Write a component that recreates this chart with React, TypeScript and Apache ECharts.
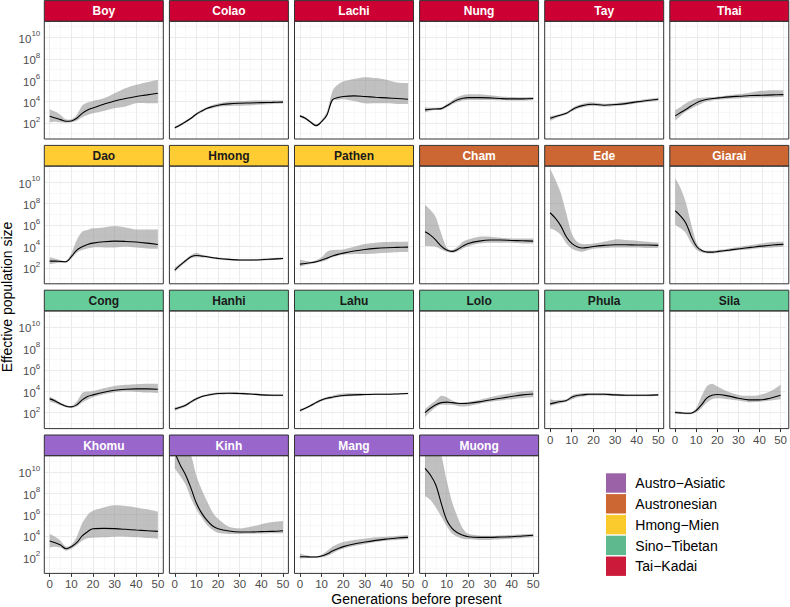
import React, { useEffect, useRef } from 'react';
import * as echarts from 'echarts';

const FONT = '"Liberation Sans", Arial, Helvetica, sans-serif';

// generations before present (sample points)
const gens = [0, 2.5, 5, 7.5, 10, 12.5, 15, 17.5, 20, 25, 30, 35, 40, 45, 50];
const xTicks = [0, 10, 20, 30, 40, 50];
const xMinor = [5, 15, 25, 35, 45];
// log10 of effective population size
const yTicks = [2, 4, 6, 8, 10];
const yMinor = [1, 3, 5, 7, 9, 11];

const groupNames = ['Austro−Asiatic', 'Austronesian', 'Hmong−Mien', 'Sino−Tibetan', 'Tai−Kadai'];
const stripColors = ['#9966CC', '#CC6633', '#FFCC33', '#66CC99', '#CC0033'];
const legendColors = ['#9B62A8', '#CC6633', '#FBCB2E', '#5FB98E', '#CC1A3A'];
const stripTextColors = ['#ffffff', '#ffffff', '#1a1a1a', '#1a1a1a', '#ffffff'];

const populations = [
  'Boy', 'Colao', 'Lachi', 'Nung', 'Tay', 'Thai',
  'Dao', 'Hmong', 'Pathen', 'Cham', 'Ede', 'Giarai',
  'Cong', 'Hanhi', 'Lahu', 'Lolo', 'Phula', 'Sila',
  'Khomu', 'Kinh', 'Mang', 'Muong',
];
const populationGroup = [4, 4, 4, 4, 4, 4, 2, 2, 2, 1, 1, 1, 3, 3, 3, 3, 3, 3, 0, 0, 0, 0];

// values are log10(Ne)
const boyMid = [2.62, 2.47, 2.31, 2.16, 2.19, 2.44, 2.9, 3.22, 3.4, 3.75, 4.06, 4.28, 4.47, 4.62, 4.78];
const boyHi = [3.28, 3.06, 2.75, 2.34, 2.34, 2.75, 3.6, 3.9, 4.06, 4.3, 4.78, 5.25, 5.56, 5.8, 6.03];
const boyLo = [2.06, 2.12, 2.06, 2.03, 2.06, 2.2, 2.53, 2.75, 2.9, 3.12, 3.37, 3.53, 3.84, 3.84, 3.84];

const colaoMid = [1.56, 1.81, 2.12, 2.44, 2.84, 3.12, 3.37, 3.53, 3.66, 3.78, 3.84, 3.87, 3.9, 3.92, 3.95];
const colaoHi = [1.68, 1.93, 2.24, 2.56, 2.96, 3.25, 3.5, 3.68, 3.82, 4.0, 4.05, 4.08, 4.1, 4.1, 4.1];
const colaoLo = [1.44, 1.69, 2.0, 2.32, 2.72, 3.0, 3.25, 3.38, 3.5, 3.58, 3.6, 3.65, 3.72, 3.78, 3.82];

const lachiMid = [2.66, 2.44, 2.06, 1.75, 2.12, 2.75, 4.16, 4.37, 4.47, 4.53, 4.47, 4.4, 4.34, 4.28, 4.22];
const lachiHi = [2.75, 2.55, 2.19, 1.87, 2.28, 3.06, 4.94, 5.56, 5.87, 6.1, 6.28, 6.19, 6.03, 5.78, 5.72];
const lachiLo = [2.53, 2.32, 1.97, 1.66, 2.03, 2.6, 4.0, 4.16, 4.22, 4.06, 3.84, 3.84, 3.84, 3.78, 3.78];

const nungMid = [3.22, 3.28, 3.31, 3.34, 3.6, 3.9, 4.16, 4.31, 4.37, 4.37, 4.34, 4.28, 4.25, 4.25, 4.28];
const nungHi = [3.47, 3.42, 3.43, 3.46, 3.75, 4.1, 4.42, 4.6, 4.68, 4.68, 4.58, 4.48, 4.42, 4.4, 4.42];
const nungLo = [2.97, 3.14, 3.2, 3.22, 3.45, 3.72, 3.95, 4.1, 4.15, 4.15, 4.15, 4.12, 4.1, 4.1, 4.12];

const tayMid = [2.44, 2.6, 2.75, 2.9, 3.22, 3.47, 3.62, 3.72, 3.75, 3.66, 3.72, 3.81, 3.97, 4.1, 4.22];
const tayHi = [2.62, 2.72, 2.87, 3.02, 3.36, 3.62, 3.8, 3.92, 3.9, 3.8, 3.85, 3.95, 4.1, 4.24, 4.36];
const tayLo = [2.2, 2.45, 2.63, 2.78, 3.08, 3.32, 3.46, 3.55, 3.58, 3.52, 3.58, 3.67, 3.83, 3.96, 4.08];

const thaiMid = [2.66, 2.97, 3.28, 3.6, 3.9, 4.09, 4.22, 4.28, 4.34, 4.44, 4.5, 4.56, 4.59, 4.62, 4.65];
const thaiHi = [3.22, 3.5, 3.84, 4.1, 4.3, 4.35, 4.4, 4.42, 4.48, 4.6, 4.7, 4.85, 5.0, 5.06, 5.06];
const thaiLo = [2.22, 2.65, 3.06, 3.35, 3.6, 3.85, 4.02, 4.12, 4.18, 4.26, 4.32, 4.36, 4.38, 4.4, 4.42];

const daoMid = [2.62, 2.62, 2.59, 2.56, 3.03, 3.65, 3.96, 4.18, 4.3, 4.43, 4.49, 4.46, 4.4, 4.3, 4.18];
const daoHi = [2.97, 2.85, 2.72, 2.65, 3.34, 4.59, 5.36, 5.52, 5.68, 5.77, 5.9, 5.77, 5.58, 5.58, 5.58];
const daoLo = [2.34, 2.42, 2.47, 2.47, 2.87, 3.4, 3.65, 3.81, 3.9, 3.9, 3.9, 3.96, 3.9, 3.81, 3.78];

const hmongMid = [1.78, 2.25, 2.65, 3.03, 3.15, 3.09, 3.03, 2.93, 2.87, 2.78, 2.72, 2.72, 2.75, 2.81, 2.87];
const hmongHi = [2.03, 2.4, 2.8, 3.2, 3.4, 3.22, 3.12, 3.02, 2.96, 2.86, 2.8, 2.8, 2.83, 2.9, 2.96];
const hmongLo = [1.62, 2.1, 2.5, 2.88, 2.97, 2.96, 2.93, 2.84, 2.78, 2.7, 2.64, 2.64, 2.67, 2.73, 2.78];

const pathenMid = [2.34, 2.4, 2.47, 2.56, 2.72, 2.9, 3.09, 3.25, 3.37, 3.56, 3.71, 3.81, 3.87, 3.9, 3.93];
const pathenHi = [2.78, 2.65, 2.56, 2.7, 2.97, 3.5, 3.65, 3.68, 3.71, 3.96, 4.21, 4.34, 4.4, 4.43, 4.43];
const pathenLo = [2.09, 2.25, 2.34, 2.45, 2.56, 2.72, 2.97, 3.1, 3.21, 3.28, 3.28, 3.34, 3.4, 3.46, 3.46];

const chamMid = [5.36, 5.05, 4.59, 4.02, 3.65, 3.53, 3.71, 4.02, 4.27, 4.49, 4.59, 4.59, 4.55, 4.52, 4.49];
const chamHi = [7.86, 7.39, 6.7, 5.21, 3.9, 3.65, 3.96, 4.43, 4.65, 4.9, 4.9, 4.8, 4.74, 4.74, 4.74];
const chamLo = [4.02, 4.02, 3.96, 3.71, 3.5, 3.4, 3.53, 3.81, 4.02, 4.27, 4.34, 4.34, 4.34, 4.27, 4.27];

const edeMid = [7.14, 6.61, 5.89, 4.9, 4.27, 3.96, 3.84, 3.9, 3.99, 4.09, 4.15, 4.15, 4.12, 4.12, 4.09];
const edeHi = [11.28, 10.2, 8.95, 7.08, 5.21, 4.43, 4.21, 4.21, 4.27, 4.43, 4.65, 4.59, 4.52, 4.43, 4.34];
const edeLo = [5.68, 5.46, 5.05, 4.27, 3.81, 3.59, 3.5, 3.65, 3.78, 3.84, 3.9, 3.9, 3.9, 3.84, 3.84];

const giaraiMid = [7.33, 6.83, 6.14, 4.9, 3.96, 3.59, 3.46, 3.46, 3.53, 3.65, 3.78, 3.9, 4.02, 4.12, 4.18];
const giaraiHi = [10.37, 9.43, 8.03, 6.0, 4.27, 3.71, 3.59, 3.59, 3.65, 3.81, 3.96, 4.12, 4.27, 4.4, 4.43];
const giaraiLo = [6.0, 5.68, 5.21, 4.27, 3.65, 3.4, 3.34, 3.34, 3.4, 3.53, 3.65, 3.74, 3.84, 3.9, 3.96];

const congMid = [3.28, 3.09, 2.81, 2.59, 2.53, 2.72, 3.18, 3.5, 3.65, 3.9, 4.09, 4.18, 4.21, 4.21, 4.18];
const congHi = [3.5, 3.25, 2.93, 2.7, 2.62, 3.03, 3.81, 3.96, 4.02, 4.27, 4.49, 4.59, 4.65, 4.68, 4.68];
const congLo = [3.03, 2.88, 2.68, 2.5, 2.44, 2.56, 2.93, 3.2, 3.43, 3.71, 3.9, 3.96, 3.93, 3.87, 3.81];

const hanhiMid = [2.34, 2.5, 2.68, 3.0, 3.28, 3.5, 3.62, 3.71, 3.78, 3.81, 3.78, 3.74, 3.65, 3.62, 3.62];
const hanhiHi = [2.5, 2.62, 2.82, 3.12, 3.4, 3.6, 3.72, 3.82, 3.88, 3.9, 3.87, 3.82, 3.74, 3.72, 3.72];
const hanhiLo = [2.15, 2.36, 2.55, 2.88, 3.16, 3.4, 3.52, 3.61, 3.68, 3.72, 3.69, 3.66, 3.56, 3.52, 3.52];

const lahuMid = [2.19, 2.4, 2.65, 2.93, 3.18, 3.34, 3.43, 3.53, 3.59, 3.65, 3.68, 3.71, 3.71, 3.74, 3.78];
const lahuHi = [2.32, 2.5, 2.75, 3.04, 3.3, 3.46, 3.58, 3.7, 3.78, 3.8, 3.78, 3.78, 3.78, 3.8, 3.84];
const lahuLo = [2.05, 2.3, 2.55, 2.82, 3.06, 3.22, 3.32, 3.42, 3.48, 3.55, 3.6, 3.63, 3.64, 3.67, 3.71];

const loloMid = [2.0, 2.4, 2.72, 2.93, 2.97, 2.93, 2.87, 2.84, 2.87, 3.0, 3.18, 3.34, 3.5, 3.65, 3.74];
const loloHi = [2.31, 2.75, 3.12, 3.56, 3.43, 3.12, 2.93, 2.95, 3.0, 3.18, 3.43, 3.65, 3.81, 3.96, 4.06];
const loloLo = [1.56, 2.09, 2.5, 2.72, 2.72, 2.72, 2.62, 2.56, 2.62, 2.81, 3.0, 3.12, 3.25, 3.37, 3.43];

const phulaMid = [2.81, 2.93, 3.03, 3.12, 3.43, 3.59, 3.65, 3.71, 3.71, 3.71, 3.65, 3.62, 3.62, 3.62, 3.65];
const phulaHi = [3.25, 3.15, 3.2, 3.25, 3.6, 3.75, 3.8, 3.82, 3.82, 3.82, 3.75, 3.72, 3.72, 3.72, 3.74];
const phulaLo = [2.62, 2.75, 2.88, 3.0, 3.22, 3.4, 3.5, 3.58, 3.6, 3.6, 3.55, 3.52, 3.52, 3.52, 3.55];

const silaMid = [2.0, 1.97, 1.94, 1.94, 2.19, 2.72, 3.34, 3.62, 3.68, 3.56, 3.34, 3.18, 3.18, 3.34, 3.62];
const silaHi = [2.16, 2.08, 2.03, 2.03, 2.4, 3.5, 4.43, 4.68, 4.43, 3.96, 3.65, 3.56, 3.65, 3.96, 4.59];
const silaLo = [1.87, 1.86, 1.84, 1.84, 2.0, 2.4, 2.93, 3.25, 3.34, 3.25, 3.12, 2.97, 3.0, 3.12, 3.25];

const khomuMid = [3.53, 3.37, 3.15, 2.81, 3.0, 3.37, 4.0, 4.4, 4.68, 4.71, 4.68, 4.62, 4.55, 4.49, 4.43];
const khomuHi = [4.18, 3.93, 3.56, 3.0, 3.18, 3.93, 5.18, 5.96, 6.36, 6.67, 6.86, 6.8, 6.67, 6.49, 6.27];
const khomuLo = [2.93, 3.0, 2.93, 2.62, 2.81, 3.15, 3.56, 3.78, 3.84, 3.87, 3.93, 3.93, 3.87, 3.81, 3.74];

const kinhMid = [11.8, 10.63, 9.7, 8.45, 7.05, 6.11, 5.43, 4.93, 4.68, 4.46, 4.37, 4.37, 4.4, 4.43, 4.49];
const kinhHi = [12.5, 12.3, 12.0, 11.6, 9.6, 8.3, 7.2, 6.2, 5.6, 4.85, 4.7, 4.85, 5.1, 5.3, 5.4];
const kinhLo = [10.3, 9.6, 8.8, 7.5, 6.5, 5.7, 5.0, 4.55, 4.3, 4.18, 4.18, 4.2, 4.22, 4.25, 4.25];

const mangMid = [2.06, 2.06, 2.03, 2.03, 2.12, 2.31, 2.59, 2.81, 3.0, 3.25, 3.43, 3.59, 3.71, 3.81, 3.87];
const mangHi = [2.37, 2.22, 2.12, 2.12, 2.25, 2.59, 3.0, 3.25, 3.43, 3.62, 3.74, 3.87, 3.93, 4.0, 4.09];
const mangLo = [1.9, 1.92, 1.94, 1.96, 2.0, 2.12, 2.37, 2.62, 2.81, 3.06, 3.25, 3.43, 3.56, 3.62, 3.68];

const muongMid = [10.32, 9.7, 8.76, 7.05, 5.49, 4.71, 4.3, 4.06, 3.93, 3.87, 3.87, 3.9, 3.93, 4.0, 4.06];
const muongHi = [12.3, 12.2, 12.0, 11.6, 9.2, 7.2, 5.8, 4.7, 4.2, 4.05, 4.02, 4.05, 4.1, 4.15, 4.2];
const muongLo = [7.73, 7.36, 6.67, 5.8, 4.93, 4.24, 3.93, 3.74, 3.68, 3.62, 3.62, 3.68, 3.74, 3.81, 3.87];

const midValues = [boyMid, colaoMid, lachiMid, nungMid, tayMid, thaiMid, daoMid, hmongMid, pathenMid, chamMid, edeMid, giaraiMid, congMid, hanhiMid, lahuMid, loloMid, phulaMid, silaMid, khomuMid, kinhMid, mangMid, muongMid];
const hiValues = [boyHi, colaoHi, lachiHi, nungHi, tayHi, thaiHi, daoHi, hmongHi, pathenHi, chamHi, edeHi, giaraiHi, congHi, hanhiHi, lahuHi, loloHi, phulaHi, silaHi, khomuHi, kinhHi, mangHi, muongHi];
const loValues = [boyLo, colaoLo, lachiLo, nungLo, tayLo, thaiLo, daoLo, hmongLo, pathenLo, chamLo, edeLo, giaraiLo, congLo, hanhiLo, lahuLo, loloLo, phulaLo, silaLo, khomuLo, kinhLo, mangLo, muongLo];

// Catmull-Rom style cubic segments through pixel points (rendering only)
function curveThrough(pts: number[][], t: number): string {
  let d = '';
  for (let i = 0; i < pts.length - 1; i++) {
    const p0 = pts[i - 1] || pts[i];
    const p1 = pts[i];
    const p2 = pts[i + 1];
    const p3 = pts[i + 2] || p2;
    const c1x = p1[0] + ((p2[0] - p0[0]) * t) / 6;
    const c1y = p1[1] + ((p2[1] - p0[1]) * t) / 6;
    const c2x = p2[0] - ((p3[0] - p1[0]) * t) / 6;
    const c2y = p2[1] - ((p3[1] - p1[1]) * t) / 6;
    d += ` C ${c1x.toFixed(2)} ${c1y.toFixed(2)} ${c2x.toFixed(2)} ${c2y.toFixed(2)} ${p2[0].toFixed(2)} ${p2[1].toFixed(2)}`;
  }
  return d;
}

function buildOption() {
  const PANEL_W = 119;
  const PANEL_H = 117.7;
  const STRIP_H = 20.7;
  const grids: any[] = [];
  const xAxes: any[] = [];
  const yAxes: any[] = [];
  const series: any[] = [];
  const graphics: any[] = [];

  const gridLines = [
    ...xTicks.map((v) => ({ xAxis: v, lineStyle: { color: '#ebebeb', width: 1, type: 'solid' } })),
    ...xMinor.map((v) => ({ xAxis: v, lineStyle: { color: '#f3f3f3', width: 0.6, type: 'solid' } })),
    ...yTicks.map((v) => ({ yAxis: v, lineStyle: { color: '#ebebeb', width: 1, type: 'solid' } })),
    ...yMinor.map((v) => ({ yAxis: v, lineStyle: { color: '#f3f3f3', width: 0.6, type: 'solid' } })),
  ];

  populations.forEach((name, i) => {
    const r = Math.floor(i / 6);
    const c = i % 6;
    const left = 44.3 + c * 125.1;
    const top = 21.3 + r * 144.8;
    const showX = r === 3 || (r === 2 && c >= 4);
    const showY = c === 0;
    grids.push({ left, top, width: PANEL_W, height: PANEL_H, containLabel: false });
    xAxes.push({
      type: 'value', gridIndex: i, min: -2.5, max: 52.5,
      axisLine: { show: false }, splitLine: { show: false },
      axisTick: { show: showX, customValues: xTicks, length: 3.5, lineStyle: { color: '#333333', width: 1 } },
      axisLabel: { show: showX, customValues: xTicks, margin: 5, fontSize: 11.5, color: '#4d4d4d', fontFamily: FONT },
    });
    yAxes.push({
      type: 'value', gridIndex: i, min: 0.5, max: 11.5,
      axisLine: { show: false }, splitLine: { show: false },
      axisTick: { show: showY, customValues: yTicks, length: 3.5, lineStyle: { color: '#333333', width: 1 } },
      axisLabel: {
        show: showY, customValues: yTicks, margin: 4,
        formatter: (v: number) => `{b|10}{s|${v}}`,
        rich: {
          b: { fontSize: 11.5, color: '#4d4d4d', fontFamily: FONT, lineHeight: 15, verticalAlign: 'bottom' },
          s: { fontSize: 8, color: '#4d4d4d', fontFamily: FONT, lineHeight: 9, verticalAlign: 'top' },
        },
      },
    });
    const lo = loValues[i];
    const hi = hiValues[i];
    const mid = midValues[i];

    // confidence ribbon
    series.push({
      type: 'custom', xAxisIndex: i, yAxisIndex: i, silent: true, clip: true, z: 2,
      data: [[25, 6]],
      renderItem: (params: any, api: any) => {
        const cs = params.coordSys;
        const clampY = (p: number[]) => [p[0], Math.max(cs.y, Math.min(cs.y + cs.height, p[1]))];
        const up = gens.map((g, k) => clampY(api.coord([g, hi[k]])));
        const dn = gens.map((g, k) => clampY(api.coord([g, lo[k]]))).reverse();
        const d = `M ${up[0][0]} ${up[0][1]}` + curveThrough(up, 0.9) +
          ` L ${dn[0][0]} ${dn[0][1]}` + curveThrough(dn, 0.9) + ' Z';
        return {
          type: 'path',
          shape: { pathData: d },
          style: { fill: 'rgba(140,140,140,0.55)', stroke: null },
        };
      },
    });
    // estimate line (+ panel grid lines as marker lines)
    series.push({
      type: 'line', xAxisIndex: i, yAxisIndex: i, silent: true, name,
      data: gens.map((g, k) => [g, mid[k]]), symbol: 'none', smooth: 0.35,
      lineStyle: { color: '#000000', width: 1.1 }, z: 4,
      markLine: { silent: true, symbol: ['none', 'none'], animation: false, label: { show: false }, z: 1, data: gridLines },
    });

    const gIdx = populationGroup[i];
    graphics.push({
      type: 'rect', shape: { x: left, y: top - STRIP_H, width: PANEL_W, height: STRIP_H },
      style: { fill: stripColors[gIdx], stroke: '#333333', lineWidth: 1 }, z: 50, silent: true,
    });
    graphics.push({
      type: 'text', x: left + PANEL_W / 2, y: top - STRIP_H / 2 + 0.5, z: 51, silent: true,
      style: { text: name, fill: stripTextColors[gIdx], fontSize: 12, fontWeight: 'bold', fontFamily: FONT, align: 'center', verticalAlign: 'middle' },
    });
    graphics.push({
      type: 'rect', shape: { x: left, y: top, width: PANEL_W, height: PANEL_H },
      style: { fill: 'none', stroke: '#333333', lineWidth: 1 }, z: 50, silent: true,
    });
  });

  // legend
  groupNames.forEach((g, k) => {
    const y = 473.3 + k * 20.8;
    graphics.push({
      type: 'rect', shape: { x: 606, y, width: 20, height: 19.4 },
      style: { fill: legendColors[k] }, z: 50, silent: true,
    });
    graphics.push({
      type: 'text', x: 635.3, y: y + 9.9, z: 51, silent: true,
      style: { text: g, fill: '#000000', fontSize: 14, fontFamily: FONT, align: 'left', verticalAlign: 'middle' },
    });
  });

  // axis titles
  graphics.push({
    type: 'text', x: 7, y: 297, rotation: Math.PI / 2, z: 51, silent: true,
    style: { text: 'Effective population size', fill: '#000000', fontSize: 14, fontFamily: FONT, align: 'center', verticalAlign: 'middle' },
  });
  graphics.push({
    type: 'text', x: 416.5, y: 598.5, z: 51, silent: true,
    style: { text: 'Generations before present', fill: '#000000', fontSize: 14, fontFamily: FONT, align: 'center', verticalAlign: 'middle' },
  });

  return {
    animation: false,
    backgroundColor: '#ffffff',
    textStyle: { fontFamily: FONT },
    grid: grids,
    xAxis: xAxes,
    yAxis: yAxes,
    series,
    graphic: graphics,
  };
}

export default function App() {
  const ref = useRef<HTMLDivElement>(null);
  useEffect(() => {
    if (!ref.current) return;
    const chart = echarts.init(ref.current, undefined, { renderer: 'svg' });
    chart.setOption(buildOption() as any);
    return () => chart.dispose();
  }, []);
  return <div ref={ref} style={{ position: 'fixed', left: 0, top: 0, width: 790, height: 607 }} />;
}
